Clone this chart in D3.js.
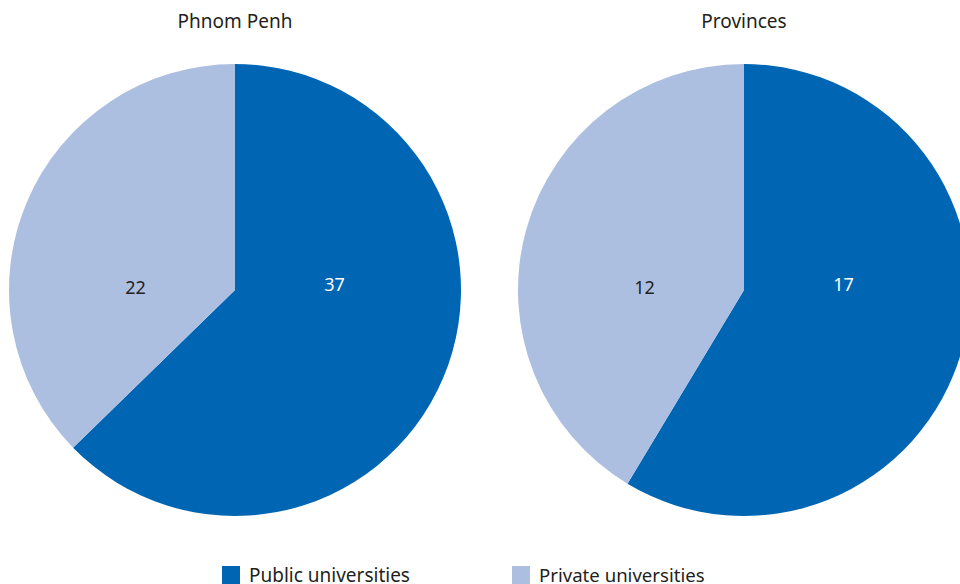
<!DOCTYPE html>
<meta charset="utf-8">
<style>
 body { margin: 0; background: #fff; }
 text { font-family: "Noto Sans", sans-serif; fill: #231f20; }
 .title { font-size: 19px; }
 .val { font-size: 18px; }
 .legend text { font-size: 19px; }
</style>
<body>
<svg width="960" height="584"></svg>
<script src="https://d3js.org/d3.v7.min.js"></script>
<script>

 var regions = ["Phnom Penh", "Provinces"];
 var categories = ["Public universities", "Private universities"];
 var publicValues = [37, 17];
 var privateValues = [22, 12];
 var colors = ["#0066b3", "#adbfe0"];

 var svg = d3.select("svg"),
     width = +svg.attr("width"),
     height = +svg.attr("height");

 var radius = 226;
 var centers = d3.scalePoint().domain(regions).range([235, 744]);
 var cy = 290;

 var color = d3.scaleOrdinal().domain(categories).range(colors);

 var pie = d3.pie().sort(null).value(function(d) { return d.value; });
 var arc = d3.arc().innerRadius(0).outerRadius(radius);

 regions.forEach(function(name, i) {
     var data = [
         {cat: categories[0], value: publicValues[i]},
         {cat: categories[1], value: privateValues[i]}
     ];
     var g = svg.append("g")
         .attr("transform", "translate(" + centers(name) + "," + cy + ")");

     g.selectAll("path")
      .data(pie(data))
      .enter().append("path")
      .attr("d", arc)
      .style("fill", function(d) { return color(d.data.cat); });

     // labels sit roughly level with the centre, left/right of it
     g.selectAll("text.val")
      .data(pie(data))
      .enter().append("text")
      .attr("class", "val")
      .attr("x", function(d) { return (d.index == 0 ? 1 : -1) * radius * 0.44; })
      .attr("y", function(d) { return d.index == 0 ? -5 : -2; })
      .attr("dy", "0.35em")
      .attr("text-anchor", "middle")
      .style("fill", function(d) { return d.index == 0 ? "#fff" : "#231f20"; })
      .text(function(d) { return d.data.value; });

     svg.append("text")
        .attr("class", "title")
        .attr("x", centers(name))
        .attr("y", 28)
        .attr("text-anchor", "middle")
        .text(name);
 });

 var legend = svg.append("g").attr("class", "legend");
 var lx = d3.scalePoint().domain(categories).range([222, 512]);
 var item = legend.selectAll("g")
     .data(categories)
     .enter().append("g")
     .attr("transform", function(d) { return "translate(" + lx(d) + ",566)"; });
 item.append("rect")
     .attr("width", 18)
     .attr("height", 18)
     .style("fill", function(d) { return color(d); });
 item.append("text")
     .attr("x", 27)
     .attr("y", 16)
     .style("font-size", function(d, i) { return i == 1 ? "18.6px" : null; })
     .text(function(d) { return d; });

</script>
</body>
